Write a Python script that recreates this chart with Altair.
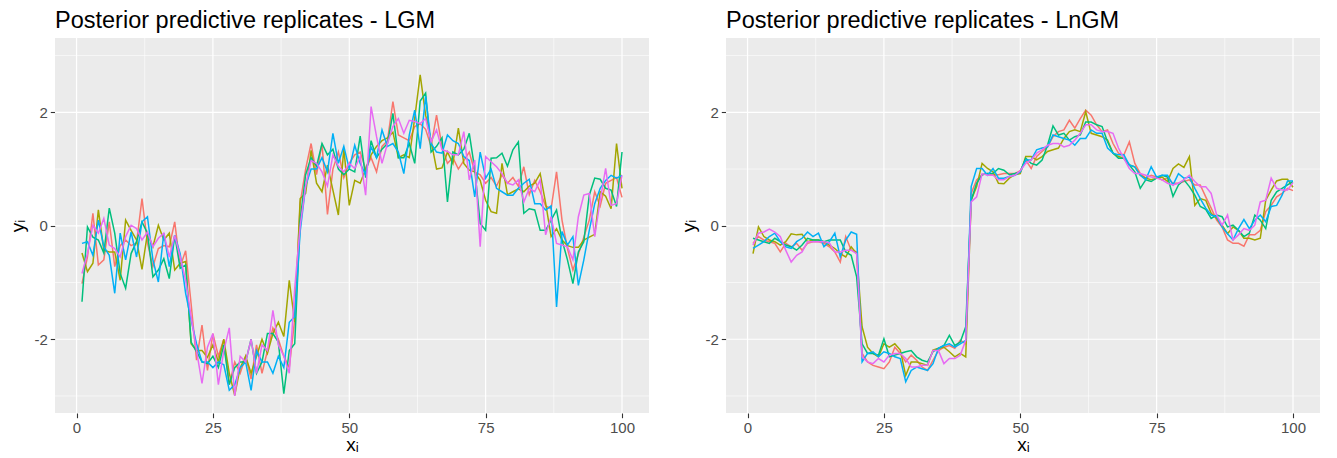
import altair as alt
import pandas as pd

x_index = list(range(1, 101))

# ---- LGM replicates (left panel) ----
lgm_rep1 = [-1.02, -0.55, 0.22, -0.69, -0.60, 0.07, -0.72, -0.35, -0.25, -0.35,
            -0.30, 0.48, -0.30, -0.72, -0.40, -0.35, -0.37, 0.07, -0.72, -0.44,
            -1.37, -2.37, -1.75, -2.55, -1.90, -2.30, -2.00, -2.80, -2.40, -2.60,
            -2.30, -2.70, -2.10, -2.60, -2.20, -1.80, -2.00, -2.30, -2.50, -1.65,
            0.40, 1.00, 1.45, 0.90, 1.45, 0.20, 1.00, 1.30, 0.85, 1.10,
            1.25, 1.30, 1.00, 1.20, 0.95, 1.40, 1.50, 2.19, 1.60, 1.55,
            1.50, 1.75, 1.80, 1.70, 1.40, 1.95, 1.40, 1.10, 1.20, 1.00,
            1.15, 1.30, 0.95, 0.90, 0.75, 0.85, 0.70, 0.90, 0.75, 0.85,
            0.70, 1.04, 0.55, 0.80, 0.60, 0.35, 0.30, 0.95, 0.10, -0.40,
            -0.78, -0.50, -0.20, 0.10, 0.60, 0.35, 0.75, 0.80, 0.85, 0.50]
lgm_rep2 = [-0.48, -0.81, -0.66, 0.28, -0.43, -0.46, -0.46, -0.96, 0.10, -0.08,
            -0.25, -0.77, -0.13, -0.37, 0.01, -0.25, -0.13, -0.78, -0.66, -0.63,
            -2.08, -2.20, -2.20, -2.32, -2.10, -2.40, -2.00, -2.60, -2.99, -2.50,
            -2.30, -2.60, -2.30, -2.00, -2.25, -1.90, -1.70, -1.95, -0.96, -1.70,
            0.48, 0.57, 1.33, 0.75, 0.60, 1.07, 0.63, 0.19, 1.36, 0.36,
            0.80, 0.75, 1.00, 1.25, 1.40, 1.50, 1.55, 1.65, 1.20, 1.25,
            1.20, 1.90, 2.66, 1.95, 1.50, 1.00, 1.02, 1.30, 1.10, 1.72,
            1.10, 0.98, 0.95, 0.80, 0.45, 0.25, 0.22, 1.10, 0.55, 0.60,
            0.65, 0.60, 0.70, 0.75, 0.92, 0.40, -0.19, -0.05, -0.25, -0.35,
            -0.38, -0.38, -0.25, -0.20, -0.15, 0.60, 0.52, 0.30, 1.45, 0.66]
lgm_rep3 = [-1.34, -0.02, -0.20, -0.25, -0.48, 0.31, -0.13, -0.84, -1.10, -0.49,
            -0.28, 0.07, -0.13, -0.90, -0.78, -0.58, -0.93, -0.17, -0.75, -0.69,
            -2.05, -2.22, -2.40, -2.43, -2.30, -2.50, -2.10, -2.80, -2.50, -2.40,
            -2.40, -2.00, -2.60, -2.40, -1.90, -1.90, -2.05, -2.96, -2.20, -2.08,
            0.10, 0.90, 1.20, 1.05, 1.45, 1.25, 1.35, 1.00, 0.90, 1.00,
            0.95, 1.58, 0.85, 1.50, 1.20, 1.35, 1.45, 1.98, 1.20, 1.20,
            1.45, 1.10, 2.20, 2.34, 1.30, 1.40, 1.55, 0.42, 1.30, 1.25,
            1.35, 1.63, 1.00, 0.04, -0.08, 1.19, 1.20, 1.28, 1.05, 1.34,
            1.48, 0.22, 0.30, 0.28, -0.08, -0.08, 0.10, 0.28, -0.25, -0.60,
            -1.02, -0.46, -0.28, 0.54, 0.84, 0.82, 0.66, 0.63, 0.34, 1.30]
lgm_rep4 = [-0.31, -0.28, -0.52, 0.10, -0.37, -0.52, -1.19, -0.13, -0.60, -0.11,
            -0.55, 0.07, 0.16, -0.60, -0.99, -0.13, -0.72, -0.17, -0.49, -1.19,
            -1.66, -2.08, -2.40, -2.40, -2.50, -2.40, -2.45, -2.90, -2.80, -2.50,
            -2.40, -2.90, -2.20, -2.40, -2.40, -2.60, -2.30, -2.50, -1.70, -1.60,
            -0.10, 0.70, 1.00, 1.00, 1.20, 0.95, 1.63, 1.10, 1.40, 1.00,
            1.42, 1.10, 0.90, 1.39, 1.20, 1.69, 1.40, 1.45, 1.30, 0.92,
            1.60, 2.04, 1.36, 2.28, 1.45, 1.30, 1.28, 1.60, 1.50, 1.45,
            1.22, 1.15, 0.51, 1.30, 0.84, 1.00, 0.66, 0.60, 0.54, 0.54,
            0.66, 0.75, 0.82, 0.39, 0.39, 0.28, 0.35, -1.43, -0.10, -0.34,
            -0.19, -1.05, -0.60, -0.08, 0.39, 0.66, 0.80, 0.89, 0.84, 0.89]
lgm_rep5 = [-0.84, -0.49, 0.01, -0.13, 0.13, -0.34, -0.40, -0.55, -0.19, 0.01,
            -0.05, -0.25, -0.11, -0.37, -0.22, -0.13, -0.55, -0.17, -0.55, -0.96,
            -1.60, -2.20, -2.78, -2.14, -1.90, -2.80, -2.20, -1.80, -3.00, -2.30,
            -2.40, -2.00, -2.60, -2.10, -2.20, -1.49, -2.10, -2.30, -2.60, -1.10,
            0.00, 0.70, 1.15, 1.10, 0.95, 0.70, 1.25, 1.05, 0.95, 1.10,
            1.01, 1.22, 0.54, 2.10, 1.57, 1.10, 1.45, 1.75, 1.89, 1.63,
            1.86, 1.84, 1.80, 1.89, 1.48, 1.69, 1.34, 1.31, 1.25, 1.25,
            1.66, 0.81, 1.16, -0.37, 1.22, 1.13, 1.04, 0.92, 0.75, 0.72,
            0.81, 0.42, 0.66, 0.60, 0.81, -0.16, 0.16, -0.31, -0.34, -0.37,
            -0.60, 0.16, 0.54, 0.57, -0.19, 0.45, 1.01, 0.36, 0.39, 0.89]

# ---- LnGM replicates (right panel) ----
lngm_rep1 = [-0.31, -0.19, -0.25, -0.28, -0.31, -0.46, -0.31, -0.37, -0.31, -0.43,
             -0.31, -0.28, -0.28, -0.31, -0.37, -0.46, -0.64, -0.19, -0.43, -0.46,
             -2.25, -2.40, -2.46, -2.49, -2.52, -2.40, -2.14, -2.25, -2.40, -2.28,
             -2.37, -2.49, -2.55, -2.37, -2.20, -2.14, -2.11, -2.16, -2.02, -2.08,
             0.57, 0.81, 0.90, 0.92, 0.90, 0.90, 0.92, 0.92, 0.92, 0.97,
             1.16, 1.01, 1.22, 1.31, 1.39, 1.57, 1.66, 1.69, 1.86, 1.72,
             1.89, 2.04, 1.95, 1.78, 1.66, 1.69, 1.45, 1.28, 1.25, 1.48,
             1.10, 0.92, 0.84, 0.89, 0.86, 0.81, 0.84, 0.75, 0.75, 0.78,
             0.81, 0.72, 0.72, 0.51, 0.31, 0.10, -0.02, -0.25, -0.31, -0.31,
             -0.36, -0.16, -0.16, -0.08, 0.25, 0.36, 0.51, 0.57, 0.66, 0.62]
lngm_rep2 = [-0.49, -0.02, -0.19, -0.25, -0.28, -0.34, -0.28, -0.14, -0.16, -0.15,
             -0.28, -0.25, -0.25, -0.28, -0.34, -0.40, -0.49, -0.55, -0.37, -0.49,
             -1.78, -2.14, -2.25, -2.31, -2.08, -2.14, -2.08, -2.19, -2.64, -2.40,
             -2.40, -2.43, -2.46, -2.19, -2.16, -2.14, -2.22, -2.31, -2.25, -2.31,
             0.45, 0.69, 1.10, 1.01, 0.95, 0.75, 0.74, 0.84, 0.90, 0.92,
             1.22, 1.22, 1.16, 1.22, 1.31, 1.34, 1.37, 1.54, 1.66, 1.69,
             1.66, 2.01, 1.63, 1.60, 1.57, 1.51, 1.28, 1.22, 1.19, 1.07,
             1.04, 0.89, 0.84, 0.81, 0.84, 0.86, 0.78, 1.01, 1.09, 1.03,
             1.22, 0.36, 0.48, 0.45, 0.22, 0.13, 0.01, -0.14, -0.02, -0.08,
             -0.22, -0.22, -0.25, -0.22, 0.45, 0.63, 0.79, 0.82, 0.82, 0.68]
lngm_rep3 = [-0.22, -0.25, -0.28, -0.31, -0.22, -0.28, -0.34, -0.37, -0.43, -0.34,
             -0.22, -0.25, -0.25, -0.28, -0.25, -0.25, -0.25, -0.46, -0.52, -0.90,
             -2.08, -2.25, -2.25, -2.28, -1.99, -2.31, -2.28, -2.25, -2.22, -2.20,
             -2.31, -2.37, -2.40, -2.22, -2.16, -2.11, -1.93, -2.11, -2.05, -1.78,
             0.45, 0.75, 0.90, 0.92, 0.92, 1.01, 0.98, 0.90, 0.92, 0.95,
             1.19, 1.10, 1.07, 1.16, 1.42, 1.76, 1.60, 1.63, 1.51, 1.57,
             1.60, 1.83, 1.83, 1.78, 1.75, 1.48, 1.28, 1.19, 1.19, 1.07,
             0.95, 0.66, 0.81, 0.78, 0.84, 0.89, 0.86, 0.52, 0.72, 0.81,
             0.69, 0.54, 0.34, 0.29, 0.13, 0.19, 0.16, -0.02, 0.01, -0.08,
             -0.19, -0.13, 0.19, 0.10, -0.05, 0.45, 0.60, 0.66, 0.72, 0.78]
lngm_rep4 = [-0.40, -0.34, -0.28, -0.19, -0.13, -0.28, -0.37, -0.40, -0.28, -0.22,
             -0.11, -0.19, -0.13, -0.37, -0.28, -0.13, -0.55, -0.25, -0.11, -0.15,
             -2.40, -2.25, -2.22, -2.31, -2.22, -2.25, -2.31, -2.34, -2.75, -2.55,
             -2.49, -2.52, -2.55, -2.43, -2.16, -2.11, -2.08, -2.14, -2.08, -2.02,
             0.69, 1.01, 1.01, 0.89, 1.01, 0.84, 0.84, 0.87, 0.89, 0.95,
             1.16, 1.16, 1.34, 1.37, 1.39, 1.60, 1.57, 1.54, 1.51, 1.42,
             1.54, 1.54, 1.69, 1.63, 1.63, 1.37, 1.28, 1.25, 1.25, 1.07,
             1.04, 0.89, 0.81, 1.04, 0.86, 0.89, 0.89, 0.72, 0.92, 0.84,
             0.86, 0.66, 0.48, 0.31, 0.19, 0.16, -0.02, -0.14, -0.25, -0.05,
             0.11, -0.05, 0.10, 0.19, 0.07, 0.34, 0.36, 0.54, 0.79, 0.79]
lngm_rep5 = [-0.34, -0.13, -0.11, -0.06, -0.11, -0.19, -0.43, -0.64, -0.52, -0.46,
             -0.28, -0.28, -0.28, -0.28, -0.30, -0.46, -0.46, -0.43, -0.43, -0.49,
             -2.31, -2.40, -2.43, -2.34, -2.40, -2.28, -2.25, -2.25, -2.34, -2.49,
             -2.49, -2.46, -2.46, -2.20, -2.20, -2.43, -2.34, -2.34, -2.28, -2.02,
             0.42, 0.51, 0.92, 0.89, 0.89, 0.81, 0.81, 0.87, 0.89, 0.97,
             1.10, 1.16, 1.28, 1.34, 1.42, 1.45, 1.45, 1.39, 1.42, 1.51,
             1.63, 1.78, 1.78, 1.69, 1.66, 1.66, 1.63, 1.37, 1.19, 1.01,
             0.92, 0.92, 0.89, 0.86, 0.84, 0.81, 0.75, 0.72, 0.75, 0.81,
             0.89, 0.78, 0.69, 0.69, 0.57, 0.19, 0.01, 0.19, -0.25, -0.16,
             -0.05, -0.08, 0.01, 0.42, 0.45, 0.84, 0.66, 0.63, 0.63, 0.76]

replicate_ids = ["1", "2", "3", "4", "5"]
replicate_colors = ["#F8766D", "#A3A500", "#00BF7D", "#00B0F6", "#E76BF3"]
x_ticks = [0, 25, 50, 75, 100]
x_minor = [12.5, 37.5, 62.5, 87.5]
y_ticks = [-2, 0, 2]
y_minor = [-3, -1, 1, 3]

X_DOMAIN = [-3.95, 104.95]
Y_DOMAIN = [-3.3, 3.31]
FONT = "Liberation Sans"


def to_frame(series):
    rows = []
    for rid, ys in zip(replicate_ids, series):
        assert len(ys) == 100, (rid, len(ys))
        for xi, yi in zip(x_index, ys):
            rows.append({"x": xi, "y": yi, "rep": rid})
    return pd.DataFrame(rows)


def panel(series, title):
    df = to_frame(series)
    xs = alt.Scale(domain=X_DOMAIN, nice=False, zero=False)
    ys = alt.Scale(domain=Y_DOMAIN, nice=False, zero=False)
    x_axis = alt.Axis(values=x_ticks, title="xᵢ", grid=False)
    y_axis = alt.Axis(values=y_ticks, title="yᵢ", grid=False,
                      labelExpr="replace(datum.label, '\u2212', '-')")
    vminor = alt.Chart(pd.DataFrame({"x": x_minor})).mark_rule(
        color="white", strokeWidth=0.6
    ).encode(x=alt.X("x:Q", scale=xs, axis=x_axis))
    hminor = alt.Chart(pd.DataFrame({"y": y_minor})).mark_rule(
        color="white", strokeWidth=0.6
    ).encode(y=alt.Y("y:Q", scale=ys, axis=y_axis))
    vmajor = alt.Chart(pd.DataFrame({"x": x_ticks})).mark_rule(
        color="white", strokeWidth=1.2
    ).encode(x=alt.X("x:Q", scale=xs, axis=x_axis))
    hmajor = alt.Chart(pd.DataFrame({"y": y_ticks})).mark_rule(
        color="white", strokeWidth=1.2
    ).encode(y=alt.Y("y:Q", scale=ys, axis=y_axis))
    lines = alt.Chart(df).mark_line(strokeWidth=1.5, clip=True).encode(
        x=alt.X("x:Q", scale=xs, axis=x_axis),
        y=alt.Y("y:Q", scale=ys, axis=y_axis),
        color=alt.Color("rep:N", scale=alt.Scale(domain=replicate_ids,
                                                 range=replicate_colors),
                        legend=None),
        detail="rep:N",
    )
    return alt.layer(vminor, hminor, vmajor, hmajor, lines).properties(
        width=594, height=375,
        title=alt.TitleParams(text=title, anchor="start", frame="group",
                              fontSize=23.5, font=FONT, fontWeight="normal",
                              color="black", offset=5),
    )


left = panel([lgm_rep1, lgm_rep2, lgm_rep3, lgm_rep4, lgm_rep5],
             "Posterior predictive replicates - LGM")
right = panel([lngm_rep1, lngm_rep2, lngm_rep3, lngm_rep4, lngm_rep5],
              "Posterior predictive replicates - LnGM")

chart = alt.hconcat(left, right, spacing=29).properties(
    padding={"left": 0, "top": 0, "right": 5, "bottom": 0}
).configure_view(
    fill="#EBEBEB", stroke=None
).configure_axis(
    domain=False, tickColor="#333333", tickWidth=1.1, tickSize=4.7,
    labelColor="#4D4D4D", labelFontSize=15, labelFont=FONT, labelPadding=3,
    titleFont=FONT, titleFontSize=19, titleFontWeight="normal",
    titleColor="black",
).configure_axisY(titlePadding=6).configure_axisX(titlePadding=0)

chart.save("out.html", embed_options={"renderer": "svg", "actions": False})
